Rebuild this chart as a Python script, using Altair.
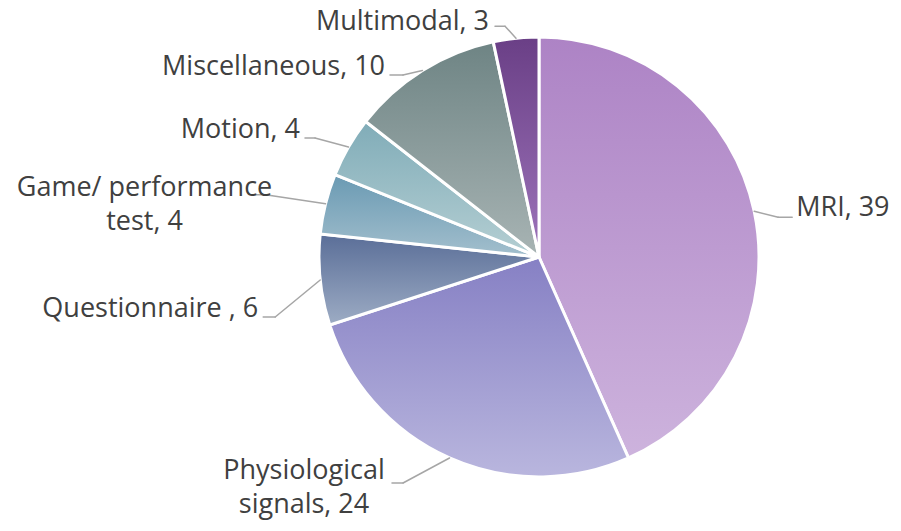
import math
import altair as alt
import pandas as pd

# ---- data ----
categories = ["MRI", "Physiological signals", "Questionnaire ", "Game/ performance test",
              "Motion", "Miscellaneous", "Multimodal"]
values = [39, 24, 6, 4, 4, 10, 3]
wrapped = ["Physiological signals", "Game/ performance test"]

# ---- styles ----
top_colors = ["#AD83C5", "#8680C4", "#5A6E98", "#6A9AB3", "#80ACB8", "#6E8484", "#6A3F86"]
bottom_colors = ["#CDB3DD", "#B9B6DE", "#9DACC4", "#A3BFCD", "#B5CFD3", "#A8B4B4", "#9D74BA"]

# ---- layout (label placement relative to slice edge at mid-angle) ----
# elbow dx, elbow dy, horizontal segment length, text dx from segment end, text dy, align
label_layout = {
    "MRI": (24, 6, 14, 4, -1, "left"),
    "Physiological signals": (-46.5, 25, -11, -88, -4, "center"),
    "Questionnaire ": (-45, 37, -12, -5, 0, "right"),
    "Game/ performance test": (-60, -9, -10, -111, 1, "center"),
    "Motion": (-33.5, -9, -10, -5, 0, "right"),
    "Miscellaneous": (-19.4, 4.6, -13, -5, 0, "right"),
    "Multimodal": (-11, -12, -10, -6, 4, "right"),
}

W, H = 885, 515
CX, CY, R = 531, 249, 220
TOTAL = sum(values)


def make_label(cat, val):
    text = f"{cat}, {val}"
    if cat in wrapped:
        a, b = cat.rsplit(" ", 1)
        text = f"{a}\n{b}, {val}"
    return text


df = pd.DataFrame({
    "category": categories,
    "value": values,
    "order": list(range(len(categories))),
    "label": [make_label(c, v) for c, v in zip(categories, values)],
    "edx": [label_layout[c][0] for c in categories],
    "edy": [label_layout[c][1] for c in categories],
    "hl": [label_layout[c][2] for c in categories],
    "tdx": [label_layout[c][3] for c in categories],
    "tdy": [label_layout[c][4] for c in categories],
    "align": [label_layout[c][5] for c in categories],
})

base = (
    alt.Chart(df)
    .transform_window(cum="sum(value)", sort=[alt.SortField("order")], frame=[None, 0])
    .transform_calculate(start="datum.cum - datum.value")
)

theta_scale = alt.Scale(domain=[0, TOTAL], range=[0, 2 * math.pi])

layers = []
for cat, c0, c1 in zip(categories, top_colors, bottom_colors):
    grad = alt.Gradient(
        gradient="linear",
        stops=[alt.GradientStop(color=c0, offset=0), alt.GradientStop(color=c1, offset=1)],
        x1=0, x2=0, y1=0, y2=1,
    )
    layers.append(
        base.transform_filter(alt.datum.category == cat)
        .mark_arc(outerRadius=R, fill=grad, stroke="white", strokeWidth=3)
        .encode(
            theta=alt.Theta("start:Q", scale=theta_scale),
            theta2="cum:Q",
            x=alt.value(CX),
            y=alt.value(CY),
        )
    )

geo = base.transform_calculate(
    mid=f"(datum.cum - datum.value / 2) / {TOTAL} * 2 * PI"
).transform_calculate(
    ex=f"{CX} + {R} * sin(datum.mid)",
    ey=f"{CY} - {R} * cos(datum.mid)",
).transform_calculate(
    bx="datum.ex + datum.edx",
    by="datum.ey + datum.edy",
).transform_calculate(
    hx="datum.bx + datum.hl",
).transform_calculate(
    tx="datum.hx + datum.tdx",
    ty="datum.by + datum.tdy",
)

line_color = "#A6A6A6"
seg1 = geo.mark_rule(color=line_color, strokeWidth=1.5, strokeCap="round").encode(
    x=alt.X("ex:Q", scale=None), y=alt.Y("ey:Q", scale=None),
    x2="bx:Q", y2="by:Q",
)
seg2 = geo.mark_rule(color=line_color, strokeWidth=1.5, strokeCap="round").encode(
    x=alt.X("bx:Q", scale=None), y=alt.Y("by:Q", scale=None),
    x2="hx:Q", y2="by:Q",
)
layers += [seg1, seg2]

for a in ["left", "right", "center"]:
    layers.append(
        geo.transform_filter(alt.datum.align == a)
        .mark_text(align=a, baseline="alphabetic", font="Open Sans", fontSize=27,
                   color="#404040", lineBreak="\n", lineHeight=34)
        .encode(
            x=alt.X("tx:Q", scale=None),
            y=alt.Y("ty:Q", scale=None),
            text="label:N",
        )
    )

chart = (
    alt.layer(*layers)
    .properties(width=W, height=H, padding=0, autosize="none")
    .configure_view(stroke=None)
)

chart.save("out.html", embed_options={"renderer": "svg", "actions": False})
